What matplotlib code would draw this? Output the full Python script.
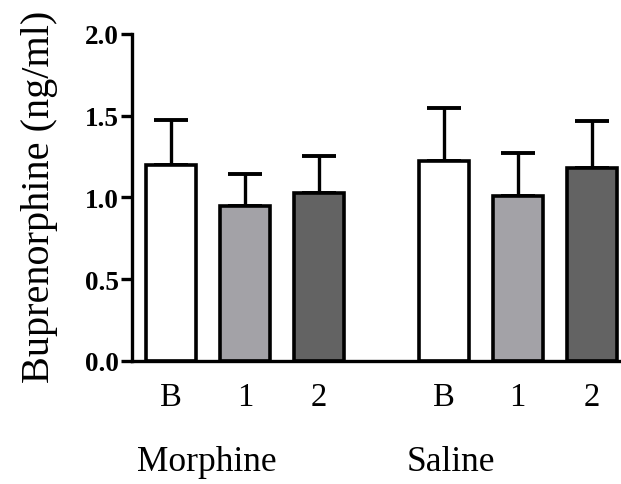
import matplotlib
matplotlib.use("Agg")
from matplotlib import pyplot as plt

# values
groups = ["Morphine", "Saline"]
tick_labels = ["B", "1", "2", "B", "1", "2"]
means = [1.20, 0.945, 1.025, 1.22, 1.008, 1.178]
sems = [0.275, 0.195, 0.23, 0.327, 0.266, 0.292]
colors = ["#ffffff", "#a3a2a7", "#636363", "#ffffff", "#a3a2a7", "#636363"]

xpos = [0, 1, 2, 3.69, 4.69, 5.69]
group_x = [0.48, 3.79]

plt.rcParams["font.family"] = ["Liberation Serif", "DejaVu Serif"]

fig = plt.figure(figsize=(6.21, 4.85), dpi=100)
ax = fig.add_axes([0.212, 0.254, 0.788, 0.674])

ax.bar(xpos, means, width=0.676, color=colors, edgecolor="black", linewidth=2.6, zorder=2)
ax.errorbar(xpos, means, yerr=[[0] * len(sems), sems], fmt="none", ecolor="black",
            elinewidth=2.4, capsize=12.5, capthick=2.8, zorder=1)

ax.set_ylim(0, 2.0)
ax.set_xlim(-0.53, 6.085)
ax.set_yticks([0.0, 0.5, 1.0, 1.5, 2.0])
ax.set_yticklabels(["0.0", "0.5", "1.0", "1.5", "2.0"], fontsize=19.5, fontweight="bold")
ax.set_xticks(xpos)
ax.set_xticklabels(tick_labels, fontsize=23.5)
ax.tick_params(axis="x", length=0, pad=15)
ax.tick_params(axis="y", length=8, width=2.4, pad=1)

ax.spines["top"].set_visible(False)
ax.spines["right"].set_visible(False)
ax.spines["left"].set_linewidth(2.4)
ax.spines["bottom"].set_linewidth(2.4)

for g, gx in zip(groups, group_x):
    ax.text(gx, -0.307, g, fontsize=25.5, ha="center", va="center",
            transform=ax.get_xaxis_transform())

ax.set_ylabel("Buprenorphine (ng/ml)", fontsize=29)
ax.yaxis.set_label_coords(-0.15, 0.504)

fig.savefig("out.png", dpi=100)
